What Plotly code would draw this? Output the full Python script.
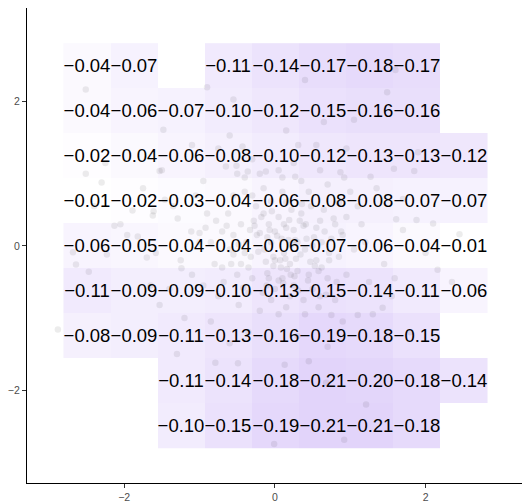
import plotly.graph_objects as go

# --- data -------------------------------------------------------------
# bin centres of the tiles
x_centers = [-2.493, -1.868, -1.242, -0.616, 0.009, 0.635, 1.261, 1.886, 2.512]
y_centers_top_to_bottom = [2.499, 1.874, 1.249, 0.625, 0.0, -0.625, -1.249, -1.874, -2.499]

# tile values, rows listed top to bottom (None = no tile)
z_rows = [
    [-0.04, -0.07, None, -0.11, -0.14, -0.17, -0.18, -0.17, None],
    [-0.04, -0.06, -0.07, -0.10, -0.12, -0.15, -0.16, -0.16, None],
    [-0.02, -0.04, -0.06, -0.08, -0.10, -0.12, -0.13, -0.13, -0.12],
    [-0.01, -0.02, -0.03, -0.04, -0.06, -0.08, -0.08, -0.07, -0.07],
    [-0.06, -0.05, -0.04, -0.04, -0.06, -0.07, -0.06, -0.04, -0.01],
    [-0.11, -0.09, -0.09, -0.10, -0.13, -0.15, -0.14, -0.11, -0.06],
    [-0.08, -0.09, -0.11, -0.13, -0.16, -0.19, -0.18, -0.15, None],
    [None, None, -0.11, -0.14, -0.18, -0.21, -0.20, -0.18, -0.14],
    [None, None, -0.10, -0.15, -0.19, -0.21, -0.21, -0.18, None],
]

# background scatter points
pts_x = [
    -0.05, 0.12, -0.20, 0.25, -0.32, 0.40, 0.05, -0.10, 0.30, -0.45,
    0.55, -0.60, 0.15, -0.25, 0.62, -0.50, 0.00, 0.35, -0.70, 0.75,
    0.20, -0.35, 0.50, -0.80, 0.85, -0.15, 0.45, -0.55, 0.95, -0.90,
    0.10, -0.40, 0.70, -0.75, 0.80, 0.05, -0.20, 0.40, -1.00, 1.05,
    -1.10, 1.15, -1.05, 1.00, 0.60, -0.65, 0.25, -0.30, 0.90, -0.85,
    1.25, -1.25, 0.00, 0.18, -0.12, 0.28, -0.08, 0.42, -0.38, 0.08,
    -0.22, 0.33, -0.28, 0.10, -0.45, 0.55, 0.65, -0.62, 0.22, -0.05,
    0.80, -0.85, 0.70, -0.68, 0.15, -0.48, 0.58, 0.95, -0.95, 1.10,
    0.35, -0.20, 0.85, -0.40, 0.10, -0.02, 0.48, -0.55, 0.62, -0.15,
    0.25, -0.30, 0.38, -0.05, 0.72, -0.78, 1.20, 0.90, -0.92, 0.05,
    -0.58, 0.45, 0.92, -0.95, 0.30, -0.10, 0.12, -0.35, 0.20, 0.60,
    1.35, -1.35, 1.45, -1.40, 0.55, -0.75, 1.30, -1.20, 0.30, -0.35,
    1.70, -1.75, 1.55, -1.65, 0.95, 0.70, -0.60, 2.00, -2.05, 0.15,
    1.05, -1.10, 1.80, -1.30, 0.45, 1.90, 2.35, -2.40, -0.90, 0.40,
    -2.51, -0.55, 0.65, 1.49, 1.60, -1.48, -0.60, -0.43, 0.31, -2.51,
    -2.30, -2.25, -1.53, -1.50, 0.87, 1.27, 1.58, 1.85, 0.27, -0.12,
    -0.36, -0.51, -0.50, -2.88, -0.79, -0.49, 0.13, -0.01, 0.92, 1.21,
    0.68, 0.75, 1.10, 1.43, 1.59, 2.16, 2.45, 2.10, 1.88, 1.70,
    1.61, -2.68, -2.64, -2.47, -2.13, -1.96, -1.89, -1.62, -1.58, -1.70,
    -1.82, -2.23, -1.53, -1.24, -1.11, -1.00, -1.29, -1.46, -1.61,
    -0.02, 0.07, 0.16, -0.14, 0.22, -0.27, 0.34, -0.40, 0.47, 0.52,
    -0.08, 0.03, 0.11, 0.19, -0.18, 0.26, -0.33, 0.38, 0.44, -0.48,
    0.58, 0.66, -0.55, 0.00, 0.09, -0.11, 0.14, 0.31, -0.24, 0.36,
    0.50, 0.72, 0.78, -0.64, -0.70, 0.05, -0.04, 0.21, 0.27, -0.16,
    0.41, 0.60, 0.82, 0.88, -0.42, -0.30, 0.15, -0.07, 0.53, 0.68,
]
pts_y = [
    0.05, -0.10, 0.18, 0.22, -0.15, -0.05, 0.40, -0.38, -0.35, 0.30,
    0.25, -0.05, 0.60, 0.55, -0.30, -0.40, -0.60, 0.45, 0.20, 0.10,
    -0.70, -0.65, -0.60, -0.25, -0.15, 0.80, 0.75, 0.70, 0.40, 0.45,
    0.95, 0.95, 0.85, -0.70, -0.75, -0.95, -0.90, -0.95, 0.05, -0.05,
    -0.40, 0.30, 0.70, 0.75, 1.05, 1.10, 1.15, 1.20, -1.05, -1.05,
    -0.50, -0.20, 0.20, 0.08, -0.22, -0.18, 0.30, 0.10, 0.05, -0.30,
    -0.08, 0.35, 0.35, -0.45, -0.25, -0.20, 0.50, 0.45, 0.50, 0.62,
    0.30, 0.05, -0.45, -0.50, -0.85, -0.82, -0.85, -0.40, -0.55, 0.55,
    0.90, 1.00, 0.60, 0.75, 0.75, -0.15, 0.55, 0.15, 0.05, 0.45,
    -0.55, -0.45, -0.75, -0.75, -0.20, 0.35, 0.05, 0.15, 0.25, 1.05,
    -0.25, -0.40, 0.95, 0.90, 0.05, 0.12, 0.30, -0.30, -0.25, 0.35,
    0.80, 0.55, -0.25, -0.60, 1.40, 1.35, -0.95, -1.00, -1.25, -1.20,
    0.65, 0.80, -0.70, -0.55, 1.35, -1.40, -1.35, -0.10, 0.30, 1.60,
    1.75, 1.40, -1.20, -1.50, -1.60, 1.30, -0.50, 0.55, 2.20, 2.30,
    2.17, 2.03, 1.72, 2.13, 2.44, 1.61, 1.53, 1.38, 1.40, 1.00,
    0.88, 1.15, 1.04, 1.05, 1.02, 0.96, 1.07, 1.04, 0.96, 1.03,
    1.03, 1.11, 1.00, -1.16, -1.62, -1.63, -1.65, -2.75, -2.69, -2.20,
    -1.90, -0.96, -0.96, -0.86, -0.45, -0.33, 0.16, 0.31, 0.36, 0.22,
    0.37, -0.09, -0.26, -0.36, 0.28, 0.15, 0.49, 0.42, -0.10, -0.16,
    0.13, -0.12, -0.82, -0.31, 0.20, 0.18, 0.38, 0.64, 0.48,
    -0.28, -0.20, -0.32, -0.05, 0.02, 0.28, -0.12, -0.10, -0.22, 0.12,
    -0.45, 0.14, -0.52, 0.36, 0.40, -0.42, 0.22, 0.28, -0.48, 0.02,
    -0.35, 0.20, -0.12, -0.20, 0.10, -0.55, -0.18, -0.62, 0.15, 0.58,
    0.00, -0.10, 0.38, 0.28, -0.30, -0.48, 0.48, -0.40, 0.08, -0.65,
    0.30, -0.70, -0.50, 0.20, -0.58, 0.70, 0.25, 0.22, -0.28, -0.68,
]

# --- figure -----------------------------------------------------------
y_centers = y_centers_top_to_bottom[::-1]
z = z_rows[::-1]
labels = [["" if v is None else ("\u2212%.2f" % abs(v)) for v in row] for row in z]

fig = go.Figure()
fig.add_trace(go.Heatmap(
    x=x_centers, y=y_centers, z=z, text=labels,
    texttemplate="%{text}",
    textfont=dict(family="Liberation Sans, Arial, sans-serif", size=18.5, color="black"),
    colorscale=[[0, "#E2D4FA"], [1, "#FFFFFF"]],
    zmin=-0.21, zmax=-0.01, showscale=False, hoverongaps=False,
))
fig.add_trace(go.Scatter(
    x=pts_x, y=pts_y, mode="markers",
    marker=dict(size=6.5, color="rgba(0,0,0,0.075)", line=dict(width=0)),
    showlegend=False, hoverinfo="skip",
))

axis_common = dict(
    showgrid=False, zeroline=False, showline=True, linecolor="black", linewidth=1.1,
    ticks="outside", ticklen=4, tickcolor="#333333", tickwidth=1,
    tickfont=dict(family="Liberation Sans, Arial, sans-serif", size=10.5, color="#4D4D4D"),
    tickvals=[-2, 0, 2], ticktext=["\u22122", "0", "2"],
)
fig.update_xaxes(range=[-3.29, 3.28], **axis_common)
fig.update_yaxes(range=[-3.29, 3.30], **axis_common)
fig.update_layout(
    width=522, height=503,
    margin=dict(l=27, r=0, t=8, b=20),
    paper_bgcolor="white", plot_bgcolor="white",
    showlegend=False,
)
fig.write_html("out.html")
